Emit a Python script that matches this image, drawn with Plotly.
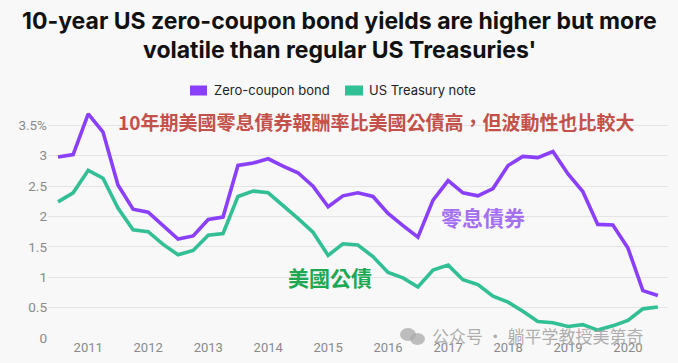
import plotly.graph_objects as go
import pandas as pd

quarters = pd.date_range("2010-07-01", periods=41, freq="QS")
zero_coupon = [2.98, 3.02, 3.69, 3.39, 2.52, 2.12, 2.07, 1.85, 1.63, 1.68,
               1.95, 1.99, 2.84, 2.88, 2.95, 2.83, 2.72, 2.50, 2.16, 2.34,
               2.39, 2.33, 2.05, 1.85, 1.66, 2.27, 2.59, 2.39, 2.34, 2.46,
               2.84, 2.99, 2.97, 3.07, 2.70, 2.41, 1.87, 1.86, 1.48, 0.78, 0.70]
treasury = [2.24, 2.39, 2.76, 2.63, 2.14, 1.78, 1.75, 1.54, 1.37, 1.44,
            1.69, 1.72, 2.33, 2.42, 2.39, 2.19, 1.97, 1.74, 1.36, 1.55,
            1.53, 1.34, 1.08, 0.99, 0.84, 1.12, 1.20, 0.96, 0.88, 0.69,
            0.59, 0.44, 0.27, 0.25, 0.19, 0.22, 0.13, 0.20, 0.29, 0.48, 0.51]
series_names = ["Zero-coupon bond", "US Treasury note"]
year_ticks = [f"{y}-01-01" for y in range(2011, 2021)]
year_labels = [str(y) for y in range(2011, 2021)]
y_ticks = [0, 0.5, 1, 1.5, 2, 2.5, 3, 3.5]
y_labels = ["0", "0.5", "1", "1.5", "2", "2.5", "3", "3.5%"]

PURPLE = "#8a3ffc"
GREEN = "#33bf95"
BG = "#f8f8f8"

W, H = 678, 363
L, R, T, B = 48, 10, 112, 25
PW, PH = W - L - R, H - T - B


def px(x):
    return (x - L) / PW


def py(y):
    return (H - B - y) / PH


fig = go.Figure()
fig.add_trace(go.Scatter(x=quarters, y=zero_coupon, mode="lines", name=series_names[0],
                         line=dict(color=PURPLE, width=3.6), showlegend=False))
fig.add_trace(go.Scatter(x=quarters, y=treasury, mode="lines", name=series_names[1],
                         line=dict(color=GREEN, width=3.6), showlegend=False))

fig.update_layout(
    width=W, height=H,
    margin=dict(l=L, r=R, t=T, b=B, autoexpand=False),
    paper_bgcolor=BG, plot_bgcolor=BG,
    font=dict(family="Roboto, Arial, sans-serif", color="#222"),
    showlegend=False,
    xaxis=dict(type="date", range=["2010-05-01", "2020-09-01"], tickvals=year_ticks,
               ticktext=year_labels, showgrid=False, zeroline=False, showline=False,
               ticks="", ticklen=0, automargin=False,
               tickfont=dict(size=13, color="#8a8a8a")),
    yaxis=dict(range=[0, 3.72], tickvals=y_ticks, ticktext=y_labels,
               showgrid=True, gridcolor="#e4e4e4", gridwidth=1, zeroline=False,
               ticks="", automargin=False, tickfont=dict(size=13.5, color="#8a8a8a")),
)

# Title (two lines)
title_lines = ["10-year US zero-coupon bond yields are higher but more",
               "volatile than regular US Treasuries'"]
for text, yc in zip(title_lines, [21, 50]):
    fig.add_annotation(text=f"<b>{text}</b>", xref="paper", yref="paper",
                       x=px(W / 2), y=py(yc), xanchor="center", yanchor="middle",
                       showarrow=False, font=dict(size=23, color="#111", family="Inter"))

# Manual legend
legend_items = [(190, 207, 212, PURPLE), (345, 363, 367, GREEN)]
for name, (x0, x1, xt, col) in zip(series_names, legend_items):
    fig.add_shape(type="rect", xref="paper", yref="paper",
                  x0=px(x0), x1=px(x1), y0=py(95.5), y1=py(85.5),
                  fillcolor=col, line=dict(width=0))
    fig.add_annotation(text=name, xref="paper", yref="paper", x=px(xt), y=py(90.5),
                       xanchor="left", yanchor="middle", showarrow=False,
                       font=dict(size=13, color="#222", family="Inter"))

fig.add_annotation(text="<b>10年期美國零息債券報酬率比美國公債高，但波動性也比較大</b>",
                   xref="paper", yref="paper", x=px(376), y=py(122), showarrow=False,
                   xanchor="center", yanchor="middle",
                   font=dict(size=19, color="#c4504a", family="Noto Sans CJK TC"))
fig.add_annotation(text="<b>零息債券</b>", xref="paper", yref="paper",
                   x=px(482.5), y=py(216.5), showarrow=False, xanchor="center", yanchor="middle",
                   font=dict(size=21, color="#a56ff2", family="Noto Sans CJK TC"))
fig.add_annotation(text="<b>美國公債</b>", xref="paper", yref="paper",
                   x=px(330), y=py(276.5), showarrow=False, xanchor="center", yanchor="middle",
                   font=dict(size=21, color="#1fa852", family="Noto Sans CJK TC"))

# Watermark
fig.add_shape(type="circle", xref="paper", yref="paper",
              x0=px(400), x1=px(416), y0=py(341), y1=py(328),
              fillcolor="rgba(170,170,170,0.75)", line=dict(width=0))
fig.add_shape(type="circle", xref="paper", yref="paper",
              x0=px(410), x1=px(425), y0=py(345), y1=py(333),
              fillcolor="rgba(170,170,170,0.75)", line=dict(width=0))
fig.add_annotation(text="公众号 · 躺平学教授美第奇", xref="paper", yref="paper",
                   x=px(430), y=py(335), xanchor="left", yanchor="middle", showarrow=False,
                   font=dict(size=17, color="rgba(160,160,160,0.85)", family="Noto Sans CJK SC"))

fig.write_html("out.html",
               config={"displayModeBar": False},
               post_script="document.body.style.margin='0';"
                           "document.body.style.background='#f8f8f8';"
                           "document.body.style.overflow='hidden';")
